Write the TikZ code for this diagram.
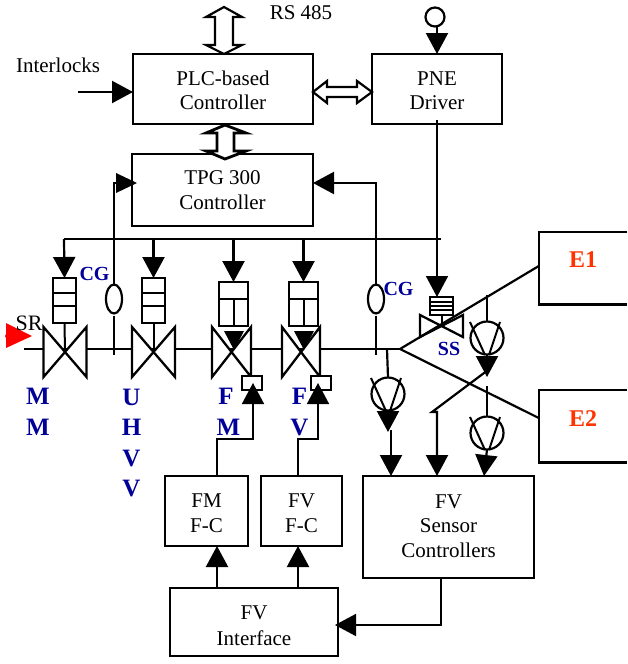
\documentclass[tikz,border=0pt]{standalone}
\usepackage{fontspec}
\setmainfont{Liberation Serif}
\usetikzlibrary{arrows.meta,calc,shapes.geometric}
\definecolor{navy}{RGB}{0,0,153}
\definecolor{orangered}{RGB}{255,51,0}
\tikzset{
  x=1pt,y=-1pt,
  wire/.style={line width=2.2pt,line join=miter},
  thinwire/.style={line width=1.7pt},
  arr/.style={wire,-{Triangle[length=21pt,width=22pt]}},
  arrthin/.style={thinwire,-{Triangle[length=21pt,width=22pt]}},
  blk/.style={draw,line width=2.6pt,inner sep=0pt,outer sep=0pt,align=center,
     font=\fontsize{21}{24.5}\selectfont},
  smallblk/.style={blk,font=\fontsize{21}{25.5}\selectfont},
  act/.style={draw,fill=white,line width=2.3pt,inner sep=0pt,outer sep=0pt},
  bluetxt/.style={text=navy,font=\fontsize{25}{30.5}\selectfont\bfseries,inner sep=0pt,align=center},
  cg/.style={text=navy,font=\fontsize{20}{24}\selectfont\bfseries,inner sep=0pt},
  redtxt/.style={text=orangered,font=\fontsize{24}{28}\selectfont\bfseries,inner sep=0pt},
  plain/.style={font=\fontsize{21}{25}\selectfont,inner sep=0pt},
  gauge/.style={draw,ellipse,fill=white,line width=2.2pt,minimum width=16pt,minimum height=29pt,inner sep=0pt,outer sep=0pt},
  sensor/.style={draw,circle,line width=2.2pt,minimum size=33pt,inner sep=0pt,outer sep=0pt},
  hollow/.style={draw,fill=white,line width=2.2pt,line join=miter},
}
% shift a line of text down by #1 without changing its spacing
\newcommand{\dn}[2]{\raisebox{-#1pt}[\height][\depth]{#2}}
% valve: centre x, half width, top y, bottom y
\newcommand{\valvesym}[4]{\draw[act,line join=miter] (#1-#2,#3) -- (#1+#2,#4) -- (#1+#2,#3) -- (#1-#2,#4) -- cycle;}
% sensor symbol: V drawn inside a circle
\newcommand{\sensorv}[3]{%
  \node[sensor] (#3) at (#1,#2) {};
  \draw[line width=2pt] (#1-17,#2-16) -- (#1-2,#2+17);
  \draw[line width=2pt] (#1+13,#2-16) -- (#1+2,#2+17);}
\begin{document}
\begin{tikzpicture}
\useasboundingbox (0,0) rectangle (627,664);

% main beam line
\coordinate (beamstart) at (24,349);
\coordinate (beamend) at (400,349);
\draw[wire] (beamstart) -- (beamend);

% blocks
\node[blk,minimum width=180pt,minimum height=70pt] (plc) at (223,89) {\dn{1.5}{PLC-based}\\\dn{1.5}{Controller}};
\node[blk,minimum width=130pt,minimum height=70pt] (pne) at (437,89) {\dn{1.5}{PNE}\\\dn{1.5}{Driver}};
\node[blk,minimum width=181pt,minimum height=72pt] (tpg) at (222.5,190) {TPG 300\\[1pt]Controller};
\node[smallblk,minimum width=83pt,minimum height=70pt] (fmfc) at (206.5,511) {\dn{2}{FM}\\\dn{2}{F-C}};
\node[smallblk,minimum width=81pt,minimum height=70pt] (fvfc) at (301.5,511) {\dn{2}{FV}\\\dn{2}{F-C}};
\node[blk,minimum width=171pt,minimum height=102pt] (sens) at (448.5,527) {\dn{-1}{FV}\\\dn{-1}{Sensor}\\\dn{-1}{Controllers}};
\node[smallblk,minimum width=168pt,minimum height=68pt] (iface) at (254,622) {\dn{3.5}{FV}\\\dn{3.5}{Interface}};

% experiment boxes, open at the page edge
\node[redtxt,minimum width=88pt,minimum height=72pt] (e1) at (583,268) {\dn{-8}{E1}};
\node[redtxt,minimum width=88pt,minimum height=72pt] (e2) at (583,426) {\dn{-7}{E2}};
\draw[line width=2.6pt] (e1.north east) -- (e1.north west) -- (e1.south west) -- (e1.south east);
\draw[line width=2.6pt] (e2.north east) -- (e2.north west) -- (e2.south west) -- (e2.south east);

% labels
\node[plain] (rs) at (301,13) {RS 485};
\node[plain] (inter) at (58,65) {Interlocks};
\coordinate (interin) at (78,92);
\draw[arr] (interin) -- (interin -| plc.west);

% hollow double arrows
\draw[hollow] (224,7) -- (242,17) -- (233,17) -- (233,45) -- (242,45) -- (224,54) -- (206,45) -- (215,45) -- (215,17) -- (206,17) -- cycle;
\draw[hollow,line width=2.8pt] (225,125) -- (246,133) -- (234,133) -- (234,151) -- (246,151) -- (225,159) -- (206,151) -- (217,151) -- (217,133) -- (206,133) -- cycle;
\draw[hollow] (plc.east |- 0,92) -- (327,81) -- (327,87) -- (357,87) -- (357,81) -- (pne.west |- 0,92) -- (357,103) -- (357,97) -- (327,97) -- (327,103) -- cycle;

% air supply
\node[draw,circle,line width=2.2pt,minimum size=19pt,inner sep=0pt,outer sep=0pt] (air) at (435,17) {};
\draw[arr] (air.south -| pne.north) -- (pne.north);

% control bus
\coordinate (busl) at (64,239);
\coordinate (busr) at (441,239);
\draw[wire] (busl) -- (busr);

% actuators
\node[act,minimum width=23pt,minimum height=45pt] (mma) at (64.5,300.5) {};
\node[act,minimum width=23pt,minimum height=45pt] (uha) at (153.5,300.5) {};
\node[act,minimum width=29pt,minimum height=44pt] (fma) at (233.5,304) {};
\node[act,minimum width=29pt,minimum height=44pt] (fva) at (303.5,304) {};
\node[act,minimum width=23pt,minimum height=18pt] (ssa) at (441.5,306) {};
\draw[arr] (busl) -- (mma.north);
\draw[arr] (uha.north |- busl) -- (uha.north);
\draw[arr] (fma.north |- busl) -- (fma.north);
\draw[arr] (fva.north |- busl) -- (fva.north);
\draw[line width=1.8pt] (53,293) -- (76,293) (53,306) -- (76,306);
\draw[line width=1.8pt] (142,293) -- (165,293) (142,306) -- (165,306);
\draw[line width=1.8pt] (219,299) -- (248,299) (234,299) -- (234,326);
\draw[line width=1.8pt] (289,299) -- (318,299) (304,299) -- (304,326);
\draw[line width=1.8pt] (430,302) -- (453,302) (430,306) -- (453,306) (430,310) -- (453,310);

% valves
\valvesym{65}{21.5}{327}{377}
\valvesym{153.5}{21.5}{327}{377}
\valvesym{231.5}{19.5}{327}{377}
\valvesym{301}{19}{327}{377}
\draw[line width=2pt] (mma.south) -- (65,352);
\draw[line width=2pt] (uha.south) -- (153.5,352);
\coordinate (fmv) at (234,350);
\coordinate (fvv) at (304,350);
\fill (fma.south -| fmv) ++(-10,5) -- ++(20,0) -- (fmv) -- cycle;
\fill (fva.south -| fvv) ++(-10,5) -- ++(20,0) -- (fvv) -- cycle;

% SS valve
\valvesym{441.5}{21.5}{315}{337}
\draw[line width=2pt] (ssa.south) -- (441.5,325);

% PNE to SS
\draw[arrthin] (pne.south) ++(0,-4) -- (pne.south |- ssa.north);

% gauges
\node[gauge] (cg1) at (114,299) {};
\node[gauge] (cg2) at (376,299) {};
\coordinate (cg1corner) at (114,183);
\coordinate (cg2corner) at (376,183);
\draw[wire] (cg1.north) -- (cg1corner) -- (116,183);
\fill (cg1corner) ++(2,-10) -- ++(0,20) -- ++(21,-10) -- cycle;
\draw[arr] (cg2.north) -- (cg2corner) -- (tpg.east |- cg2corner);
\draw[wire] (cg1.south) ++(0,2) -- (114,355);
\draw[wire] (cg2.south) ++(0,2) -- (376,355);
\node[cg] (cglab1) at (94.5,274) {CG};
\node[cg] (cglab2) at (398.5,289) {CG};
\node[cg] (sslab) at (449,349) {SS};

% fast valves readouts
\node[act,minimum width=20pt,minimum height=14pt] (fmr) at (252,383) {};
\node[act,minimum width=20pt,minimum height=14pt] (fvr) at (321,383) {};
\draw[arrthin] (217,476) |- (253,439) -- (253,383);
\draw[arrthin] (298,476) |- (318,439) -- (318,383);
\draw[arr] (fmfc.south |- iface.north) ++(10.5,0) -- ++(0,-42);
\draw[arr] (fvfc.south |- iface.north) ++(-3.5,0) -- ++(0,-42);
\coordinate (senscorner) at (441,625);
\draw[arrthin] (441,578) -- (senscorner) -- (335,625);

% side branch beams
\draw[wire] (beamend) -- (e1.south west |- 0,266);
\draw[wire] (beamend) -- (e2.south west |- 0,418);

% sensors
\sensorv{487}{338}{s1}
\sensorv{487}{433}{s2}
\sensorv{388}{394}{s3}
\draw[wire] (487,295) -- (s1.north);
\draw[wire] (487,386) -- (s2.north);
\draw[wire] (387,349) -- (s3.north);
\coordinate (s1tip) at (487,377);
\coordinate (s3tip) at (388,432);
\draw[arr] (s1.south) -- (s1tip);
\draw[arr] (s3.south) -- (s3tip);
\draw[arr] (391,430) -- (391,476);
\draw[arr] (s2.south) -- (484,476);
\draw[arr] (488,370) -- (432,412) -- (437,412) -- (437,476);

% red input marker and SR label
\fill[red] (6,323) -- (32,336) -- (6,348) -- (6,338) -- (5,336) -- (6,334) -- cycle;
\node[font=\fontsize{22}{26}\selectfont,inner sep=0pt] (sr) at (29,323) {SR};

% device labels
\node[bluetxt] (lm) at (38,412) {M\\M};
\node[bluetxt] (lu) at (131.5,443) {U\\H\\V\\V};
\node[bluetxt] (lf) at (226,412) {F\\\hspace{5pt}M};
\node[bluetxt] (lv) at (299.5,412) {F\\V};
\end{tikzpicture}
\end{document}
